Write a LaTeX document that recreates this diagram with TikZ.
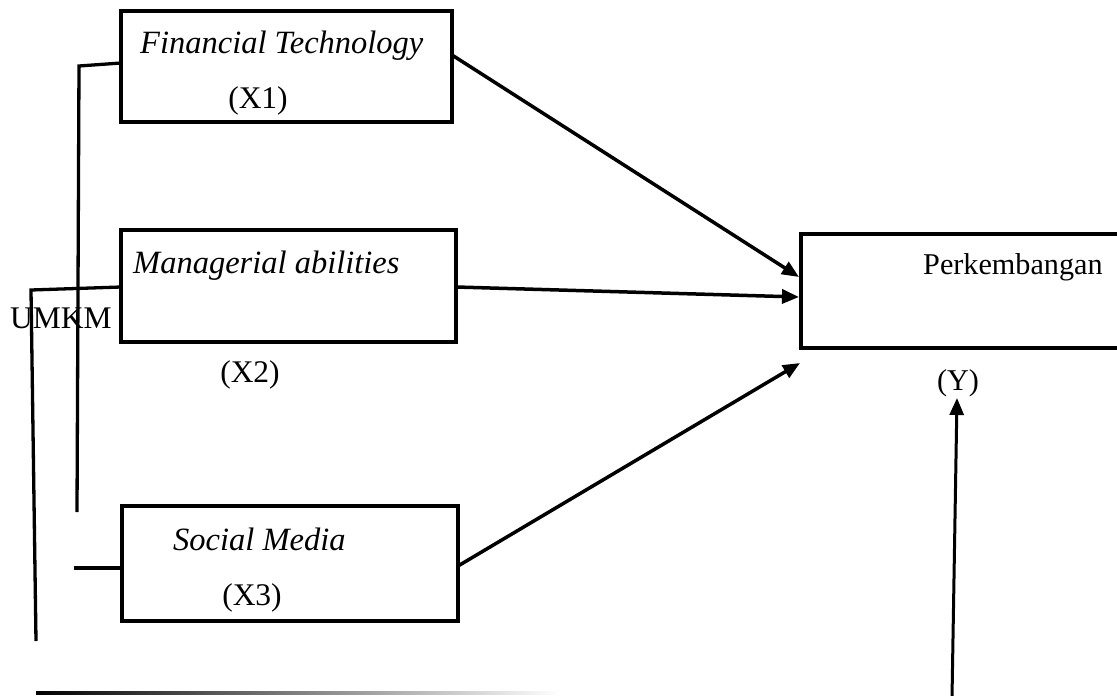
\documentclass[tikz,border=0pt]{standalone}
\usepackage{fontspec}
\setmainfont{Liberation Serif}
\usetikzlibrary{arrows.meta}
\begin{document}
\begin{tikzpicture}[x=1pt,y=-1pt,
  box/.style={draw,line width=3.5pt,inner sep=0pt},
  lbl/.style={inner sep=0pt,font=\fontsize{31.5}{36}\selectfont},
  ylbl/.style={inner sep=0pt,font=\fontsize{30.2}{36}\selectfont},
  ilbl/.style={inner sep=0pt,font=\fontsize{32.5}{36}\selectfont\itshape},
  link/.style={line width=3.3pt},
  arr/.style={line width=3.5pt,-{Triangle[length=17pt,width=14pt]}},
  arrthin/.style={line width=3pt,-{Triangle[length=17pt,width=14pt]}}]
\useasboundingbox (0,0) rectangle (1117,696);
% boxes
\node[box,minimum width=331pt,minimum height=111pt] (x1) at (286.5,66.5) {};
\node[box,minimum width=335pt,minimum height=112pt] (x2) at (288.5,286) {};
\node[box,minimum width=336pt,minimum height=115pt] (x3) at (290,563.5) {};
\node[box,minimum width=334pt,minimum height=114pt] (y) at (968,291) {};
% texts
\node[ilbl,anchor=base west] (t1) at (140,53) {Financial Technology};
\node[lbl,anchor=base] (t1b) at (258,108) {(X1)};
\node[ilbl,anchor=base west] (t2) at (133,273) {Managerial abilities};
\node[lbl,anchor=base] (t2b) at (250,382) {(X2)};
\node[lbl,anchor=base west] (um) at (10,328) {UMKM};
\node[ilbl,anchor=base west] (t3) at (173,550) {Social Media};
\node[lbl,anchor=base] (t3b) at (252,605) {(X3)};
\node[ylbl,anchor=base west] (ty) at (923,274) {Perkembangan};
\node[ylbl,anchor=base] (tyb) at (958,390) {(Y)};
% ports
\coordinate (p1) at (452,55);
\coordinate (p2) at (456,287);
\coordinate (p3) at (458,566);
\coordinate (q1) at (799,277);
\coordinate (q2) at (799,297);
\coordinate (q3) at (800,363);
\coordinate (qb) at (957,398);
\coordinate (sb) at (952,698);
% left connectors
\coordinate (l1a) at (121,63);
\coordinate (l1b) at (79,66);
\coordinate (l1c) at (77,512);
\coordinate (l2a) at (121,287);
\coordinate (l2b) at (31,290);
\coordinate (l2c) at (36,641);
\coordinate (l3a) at (74,568);
\coordinate (l3b) at (121,568);
\draw[link,line join=miter] (l1a) -- (l1b) -- (l1c);
\draw[link,line join=miter] (l2a) -- (l2b) -- (l2c);
\draw[line width=4.5pt] (l3a) -- (l3b);
% bottom faded line
\shade[left color=black,right color=white] (36,691.5) rectangle (560,694.5);
% arrows
\draw[arr] (p1) -- (q1);
\draw[arr] (p2) -- (q2);
\draw[arr] (p3) -- (q3);
\draw[arrthin] (sb) -- (qb);
\end{tikzpicture}
\end{document}
